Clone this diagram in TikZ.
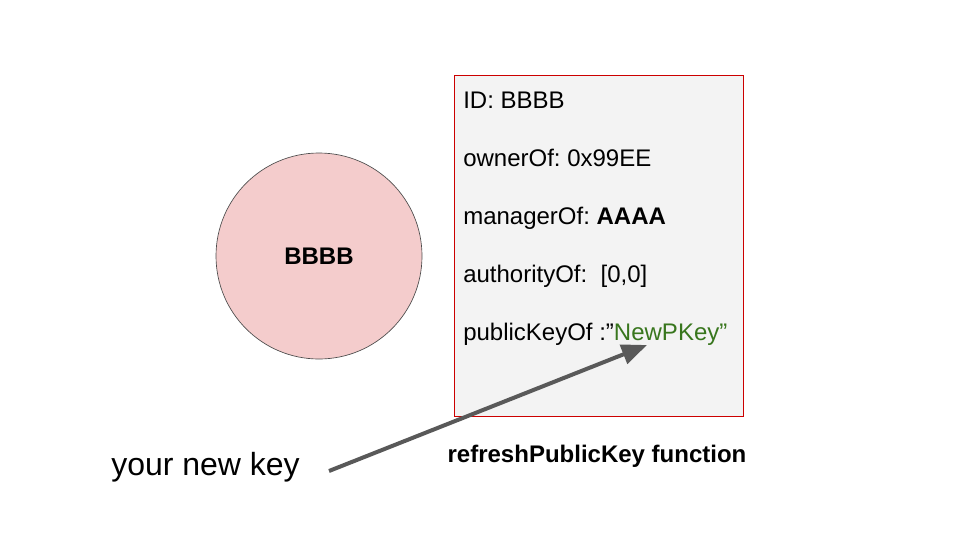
\documentclass[tikz,border=0pt]{standalone}
\usepackage{fontspec}
\setmainfont{Liberation Sans}
\usepackage{tikz}
\usetikzlibrary{arrows.meta}
\definecolor{gcircle}{HTML}{F4CCCC}
\definecolor{gborder}{HTML}{CC0000}
\definecolor{gpanel}{HTML}{F3F3F3}
\definecolor{ggreen}{HTML}{38761D}
\definecolor{garrow}{HTML}{595959}
\frenchspacing

\begin{document}
\begin{tikzpicture}[x=0.75pt, y=-0.75pt,
    every node/.style={font=\fontsize{18}{22}\selectfont, inner sep=0pt},
    field/.style={anchor=base west},
    keyarrow/.style={-{Triangle[length=19pt, width=15pt]}, line width=3pt, garrow}]
                \useasboundingbox (0,0) rectangle (960,540);

                % Token circle
                \node[draw=black!70, circle, fill=gcircle, minimum size=154.5pt, line width=0.5pt] (token) at (319,256) {\bfseries BBBB};

                % Record panel
                \node[draw=gborder, rectangle, fill=gpanel, minimum width=216.75pt, minimum height=255.75pt, line width=0.6pt] (panel) at (598.5,245.5) {};
                \node[field] (id) at (463,108) {ID: BBBB};
                \node[field] (owner) at (463,166) {ownerOf: 0x99EE};
                \node[field] (manager) at (463,224) {managerOf: \textbf{AAAA}};
                \node[field] (authority) at (463,282) {authorityOf:\ \ [0,0]};
                \node[field] (pubkey) at (463,340) {publicKeyOf :”\textcolor{ggreen}{NewPKey”}};

                % Function name
                \node[font=\fontsize{18}{22}\selectfont\bfseries] (func) at (597,456) {refreshPublicKey function};

                % New key and arrow
                \node[anchor=west, font=\fontsize{24}{28}\selectfont] (newkey) at (111,467) {your new key};
                \coordinate (keytail) at (329,471);
                \coordinate (keytip) at (647,345);
                \draw[keyarrow] (keytail) -- (keytip);
            \end{tikzpicture}
\end{document}
